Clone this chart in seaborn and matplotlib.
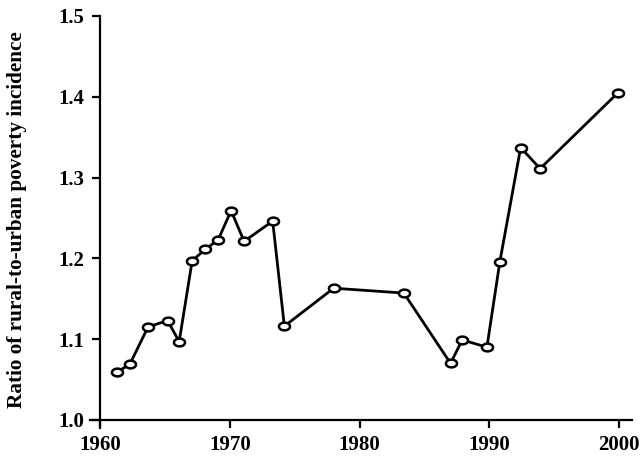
import numpy as np
import pandas as pd
import matplotlib
matplotlib.use("Agg")
import matplotlib.pyplot as plt
import seaborn as sns

# values
years = [1961.3, 1962.3, 1963.7, 1965.2, 1966.1, 1967.1, 1968.1, 1969.1, 1970.1,
         1971.1, 1973.3, 1974.2, 1978.0, 1983.4, 1987.0, 1987.9, 1989.8, 1990.8,
         1992.4, 1993.9, 1999.9]
ratios = [1.059, 1.069, 1.115, 1.123, 1.097, 1.197, 1.211, 1.223, 1.259,
          1.221, 1.246, 1.116, 1.163, 1.157, 1.070, 1.099, 1.090, 1.196,
          1.337, 1.311, 1.405]
xticks = [1960, 1970, 1980, 1990, 2000]
yticks = [1.0, 1.1, 1.2, 1.3, 1.4, 1.5]
ylabel = "Ratio of rural-to-urban poverty incidence"


def main():
    sns.set_style("ticks")
    plt.rcParams["font.family"] = ["Liberation Serif", "DejaVu Serif"]
    plt.rcParams["font.weight"] = "bold"

    df = pd.DataFrame({"year": years, "ratio": ratios})

    # slightly flattened open circle like the original
    t = np.linspace(0, 2 * np.pi, 40)
    ellipse = list(zip(np.cos(t), 0.7 * np.sin(t)))

    fig = plt.figure(figsize=(6.4, 4.62), dpi=100)
    ax = fig.add_axes([0.14, 0.0736, 0.848, 0.892])

    sns.lineplot(data=df, x="year", y="ratio", ax=ax, color="black",
                 linewidth=2.0, marker=ellipse, markersize=8,
                 markerfacecolor="white", markeredgecolor="black",
                 markeredgewidth=1.8, sort=False)

    ax.set_xlim(1959.2, 2001)
    ax.set_ylim(0.99, 1.5)
    ax.spines["left"].set_position(("data", 1960))
    ax.spines["bottom"].set_position(("data", 1.0))
    ax.spines["top"].set_visible(False)
    ax.spines["right"].set_visible(False)
    for s in ("left", "bottom"):
        ax.spines[s].set_linewidth(1.6)
        ax.spines[s].set_color("black")

    ax.set_xticks(xticks)
    ax.set_xticklabels([str(x) for x in xticks])
    ax.set_yticks(yticks)
    ax.set_yticklabels([f"{y:.1f}" for y in yticks])
    ax.tick_params(direction="out", length=6, width=1.6, colors="black",
                   labelsize=15, pad=5)
    for lab in ax.get_xticklabels() + ax.get_yticklabels():
        lab.set_fontweight("bold")

    ax.set_xlabel("")
    ax.set_ylabel(ylabel, fontsize=15.3, fontweight="bold", color="black")
    ax.yaxis.set_label_coords(-0.115, 0.505)

    fig.savefig("out.png", dpi=100)


if __name__ == "__main__":
    main()
